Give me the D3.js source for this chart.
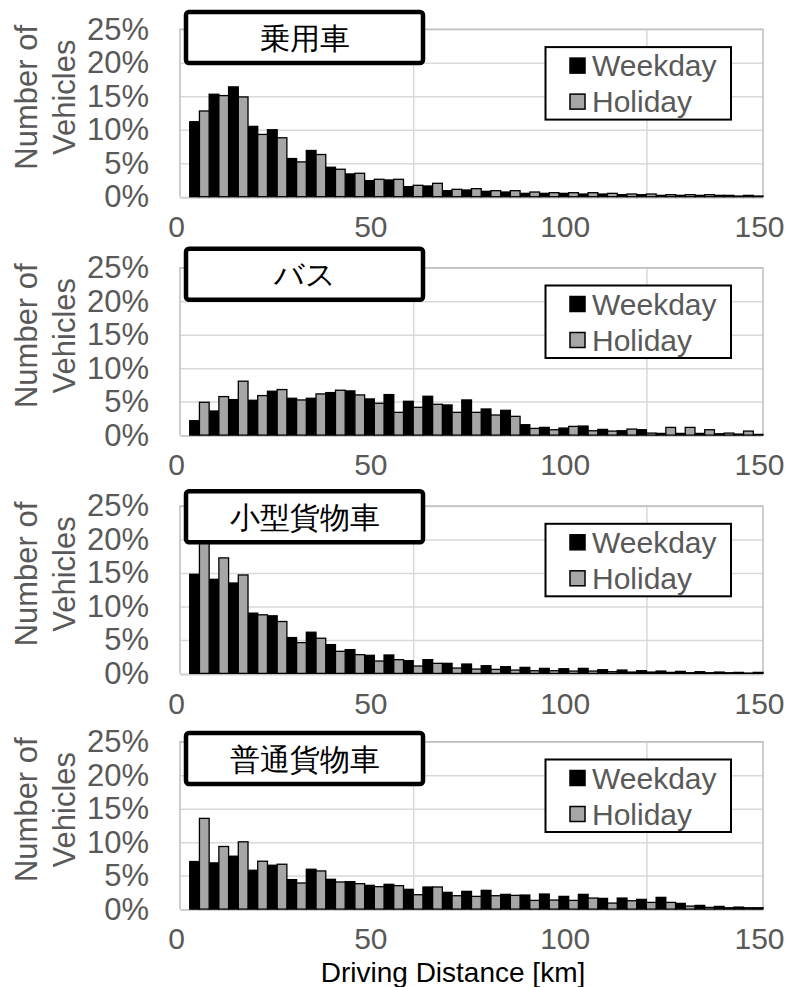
<!DOCTYPE html>
<html>
<head>
<meta charset="utf-8">
<script src="https://cdn.jsdelivr.net/npm/d3@7"></script>
<style>
  html, body { margin: 0; padding: 0; background: #fff; }
  svg { display: block; }
  text { font-family: "Liberation Sans", Arial, sans-serif; }
</style>
</head>
<body>
<svg id="chart" width="787" height="987"></svg>
<script>
// Distance bins (upper bound of each 5 km class)
const distanceBins = [5,10,15,20,25,30,35,40,45,50,55,60,65,70,75,80,85,90,95,100,105,110,115,120,125,130,135,140,145,150];
const xTickLabels = [0, 50, 100, 150];
const yTickLabels = [0, 5, 10, 15, 20, 25];
const vehicleTypes = ["乗用車", "バス", "小型貨物車", "普通貨物車"];
const seriesNames = ["Weekday", "Holiday"];

// Share of vehicles per distance class [%]
const passengerWeekday = [11.2,15.3,16.4,10.5,10.0,5.7,6.9,4.4,3.4,2.4,2.5,1.5,1.6,0.9,1.0,0.8,0.7,0.5,0.5,0.5,0.4,0.4,0.3,0.3,0.2,0.2,0.2,0.2,0.1,0.1];
const passengerHoliday = [12.8,15.1,14.9,9.3,8.8,5.2,6.3,4.1,3.5,2.6,2.6,1.7,2.0,1.1,1.2,0.9,0.9,0.7,0.6,0.6,0.6,0.5,0.4,0.4,0.3,0.3,0.3,0.2,0.2,0.0];
const busWeekday = [2.15,3.6,5.3,5.2,6.55,5.5,5.5,6.35,6.6,5.4,6.05,5.05,5.8,4.5,5.25,3.9,3.7,1.55,1.15,1.05,1.35,0.85,0.65,0.8,0.25,0.25,0.25,0.2,0.15,0.1];
const busHoliday = [4.9,5.75,8.05,5.9,6.8,5.25,6.15,6.7,6.0,4.75,3.4,4.15,4.6,3.4,3.4,3.0,2.8,1.0,0.8,1.3,0.65,0.6,0.9,0.3,1.15,1.15,0.8,0.3,0.6,0.0];
const smallTruckWeekday = [14.8,14.05,13.5,9.0,8.6,5.35,6.15,4.3,3.55,2.7,2.75,1.9,2.05,1.5,1.4,1.15,1.0,0.9,0.75,0.7,0.75,0.55,0.5,0.4,0.35,0.3,0.25,0.2,0.15,0.15];
const smallTruckHoliday = [19.8,17.25,14.7,8.75,7.75,4.6,5.25,3.3,2.8,1.85,2.05,1.1,1.5,0.8,0.65,0.6,0.5,0.4,0.4,0.35,0.35,0.25,0.2,0.2,0.15,0.1,0.1,0.1,0.05,0.0];
const largeTruckWeekday = [7.1,6.9,7.9,5.8,6.55,4.4,5.95,4.45,4.1,3.55,3.7,2.95,3.3,2.5,2.65,2.8,2.2,2.1,2.25,1.9,2.2,1.6,1.65,1.45,1.75,0.85,0.55,0.4,0.3,0.2];
const largeTruckHoliday = [13.55,9.35,10.05,7.15,6.7,3.9,5.7,4.05,3.8,3.35,3.5,2.15,3.3,2.0,1.9,2.0,2.05,1.3,1.35,1.3,1.65,0.9,1.25,1.0,1.0,0.45,0.25,0.2,0.2,0.0];

const panelSeries = [
  [passengerWeekday, passengerHoliday],
  [busWeekday, busHoliday],
  [smallTruckWeekday, smallTruckHoliday],
  [largeTruckWeekday, largeTruckHoliday]
];

// Layout
const plotLeft = 180, plotRight = 763, plotHeight = 167.4;
const plotTops = [29.3, 267.7, 506, 741.7];
const titleTops = [10, 246.7, 489.3, 731];
const fillColors = ["#000000", "#a6a6a6"];
const tickColor = "#595959";
const binHalf = 2.5;

const svg = d3.select("#chart");
const x = d3.scaleLinear().domain([0, 150]).range([plotLeft, plotRight]);

panelSeries.forEach((series, p) => {
  const top = plotTops[p];
  const bottom = top + plotHeight;
  const y = d3.scaleLinear().domain([0, 25]).range([bottom, top]);
  const g = svg.append("g");

  const clipId = "clip" + p;
  svg.append("clipPath").attr("id", clipId)
    .append("rect").attr("x", plotLeft).attr("y", top - 2)
    .attr("width", plotRight - plotLeft + 1).attr("height", plotHeight + 4);

  // horizontal gridlines
  g.append("g")
    .attr("transform", `translate(${plotLeft},0)`)
    .call(d3.axisLeft(y).tickValues(yTickLabels.slice(1)).tickSize(-(plotRight - plotLeft)).tickFormat(""))
    .call(a => a.select(".domain").remove())
    .call(a => a.selectAll("line").attr("stroke", "#d9d9d9").attr("stroke-width", 1.5));

  // vertical gridlines
  g.append("g")
    .attr("transform", `translate(0,${bottom})`)
    .call(d3.axisBottom(x).tickValues([60, 120]).tickSize(-plotHeight).tickFormat(""))
    .call(a => a.select(".domain").remove())
    .call(a => a.selectAll("line").attr("stroke", "#d9d9d9").attr("stroke-width", 1.5));

  // plot border (left, top, right)
  g.append("path")
    .attr("d", `M${plotLeft},${bottom}V${top}H${plotRight}V${bottom}`)
    .attr("fill", "none").attr("stroke", "#bfbfbf").attr("stroke-width", 1.5);

  // baseline
  g.append("line")
    .attr("x1", plotLeft).attr("x2", plotRight)
    .attr("y1", bottom + 1).attr("y2", bottom + 1)
    .attr("stroke", "#d0d0d0").attr("stroke-width", 2);

  // bars
  const bars = g.append("g").attr("clip-path", `url(#${clipId})`);
  series.forEach((values, s) => {
    bars.selectAll(null)
      .data(values.map((v, i) => ({ d: distanceBins[i], v })))
      .join("rect")
      .attr("x", d => s === 0 ? x(d.d - binHalf) : x(d.d))
      .attr("width", d => x(d.d + binHalf) - x(d.d))
      .attr("y", d => y(d.v))
      .attr("height", d => y(0) - y(d.v))
      .attr("fill", fillColors[s])
      .attr("stroke", "#000")
      .attr("stroke-width", 1.3);
  });

  // y axis labels
  g.append("g")
    .attr("transform", `translate(${plotLeft},0)`)
    .call(d3.axisLeft(y).tickValues(yTickLabels).tickSize(0).tickPadding(31).tickFormat(d => d + "%"))
    .call(a => a.select(".domain").remove())
    .call(a => a.selectAll("text")
      .attr("fill", tickColor).attr("font-size", 31)
      .attr("font-family", "'Liberation Sans', Arial, sans-serif"));

  // x axis labels
  g.append("g")
    .attr("transform", `translate(-4,${bottom})`)
    .call(d3.axisBottom(x).tickValues(xTickLabels).tickSize(0).tickPadding(19))
    .call(a => a.select(".domain").remove())
    .call(a => a.selectAll("text")
      .attr("fill", tickColor).attr("font-size", 30)
      .attr("font-family", "'Liberation Sans', Arial, sans-serif"));

  // y axis title
  const yt = g.append("text")
    .attr("transform", `translate(0,${top + 68}) rotate(-90)`)
    .attr("text-anchor", "middle")
    .attr("fill", tickColor).attr("font-size", 31);
  yt.append("tspan").attr("x", 0).attr("y", 37).text("Number of");
  yt.append("tspan").attr("x", 0).attr("y", 75).text("Vehicles");

  // title box
  const tTop = titleTops[p];
  g.append("rect")
    .attr("x", 186).attr("y", tTop + 2)
    .attr("width", 237).attr("height", 51)
    .attr("rx", 3)
    .attr("fill", "#fff").attr("stroke", "#000").attr("stroke-width", 4.5);
  g.append("text")
    .attr("x", 304.5).attr("y", tTop + 28)
    .attr("text-anchor", "middle").attr("dominant-baseline", "central")
    .attr("font-family", "'Noto Sans CJK JP', sans-serif")
    .attr("font-size", 30).attr("fill", "#000")
    .text(vehicleTypes[p]);

  // legend
  const lTop = top + 17.8;
  const lg = g.append("g");
  lg.append("rect")
    .attr("x", 545.5).attr("y", lTop)
    .attr("width", 185.5).attr("height", 72.5)
    .attr("fill", "#fff").attr("stroke", "#000").attr("stroke-width", 2);
  seriesNames.forEach((name, s) => {
    const cy = lTop + 18.5 + s * 36;
    lg.append("rect")
      .attr("x", 570).attr("y", cy - 7.5)
      .attr("width", 15).attr("height", 15)
      .attr("fill", fillColors[s]).attr("stroke", "#000").attr("stroke-width", 1.5);
    lg.append("text")
      .attr("x", 592).attr("y", cy)
      .attr("dominant-baseline", "central")
      .attr("fill", tickColor).attr("font-size", 30)
      .text(name);
  });
});

// x axis title
svg.append("text")
  .attr("x", 453).attr("y", 972)
  .attr("text-anchor", "middle").attr("dominant-baseline", "central")
  .attr("font-size", 28).attr("fill", "#000")
  .text("Driving Distance [km]");
</script>
</body>
</html>
